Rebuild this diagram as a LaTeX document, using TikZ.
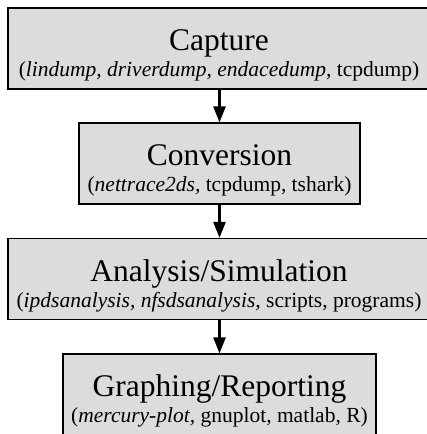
\documentclass[tikz,border=0pt]{standalone}
\usepackage{fontspec}
\setmainfont{Liberation Serif}
\usetikzlibrary{arrows.meta}
\tikzset{
  stage/.style={draw=black, line width=1.2pt, fill={rgb,255:red,220;green,220;blue,220}, minimum height=81pt, inner sep=0pt},
  ttl/.style={anchor=base, inner sep=0pt, font=\fontsize{31.5}{33}\selectfont},
  sub/.style={anchor=base, inner sep=0pt, font=\fontsize{21.5}{24}\selectfont},
  flow/.style={line width=2.6pt, -{Triangle[width=12pt,length=16pt]}, shorten >=0pt}
}
\begin{document}
\begin{tikzpicture}[x=1pt,y=1pt]
\useasboundingbox (0,0) rectangle (427,-434);
\clip (0,0) rectangle (427,-434);
\node[stage, minimum width=422pt] (cap) at (219,-48.5) {};
\node[stage, minimum width=281pt] (conv) at (219.5,-163.5) {};
\node[stage, minimum width=422pt] (ana) at (219,-279) {};
\node[stage, minimum width=313pt] (graph) at (219.5,-394.5) {};
\node[ttl] (capT) at ([yshift=-2pt]cap.center) {Capture};
\node[sub] (capS) at ([yshift=-28pt]cap.center) {(\textit{lindump, driverdump, endacedump,} tcpdump)};
\node[ttl] (convT) at ([yshift=-2pt]conv.center) {Conversion};
\node[sub] (convS) at ([yshift=-28pt]conv.center) {(\textit{nettrace2ds,} tcpdump, tshark)};
\node[ttl] (anaT) at ([yshift=-2pt]ana.center) {Analysis/Simulation};
\node[sub] (anaS) at ([yshift=-28pt]ana.center) {(\textit{ipdsanalysis, nfsdsanalysis,} scripts, programs)};
\node[ttl] (graphT) at ([yshift=-2pt]graph.center) {Graphing/Reporting};
\node[sub] (graphS) at ([yshift=-28pt]graph.center) {(\textit{mercury-plot,} gnuplot, matlab, R)};
\draw[flow] (cap.south -| conv.north) -- (conv.north);
\draw[flow] (conv) -- (ana.north -| conv.south);
\draw[flow] (ana.south -| graph.north) -- (graph.north);
\end{tikzpicture}
\end{document}
